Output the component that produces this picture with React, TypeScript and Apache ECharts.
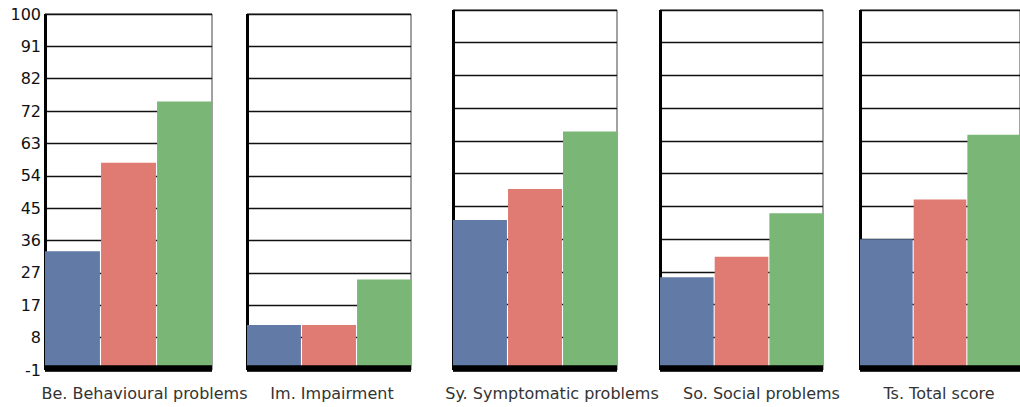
import React, { useEffect, useRef } from "react";
import * as echarts from "echarts";

const categories = [
  "Be. Behavioural problems",
  "Im. Impairment",
  "Sy. Symptomatic problems",
  "So. Social problems",
  "Ts. Total score",
];
const seriesNames = ["Group 1", "Group 2", "Group 3"];
const blueValues = [32.7, 11.8, 41.1, 25.0, 35.7];
const redValues = [57.8, 11.8, 49.8, 30.8, 46.8];
const greenValues = [75.2, 24.7, 65.9, 43.0, 65.0];
const tickLabels = ["-1", "8", "17", "27", "36", "45", "54", "63", "72", "82", "91", "100"];

const colors = ["#627AA6", "#DF7B72", "#7AB675"];
const yMin = -1;
const yMax = 100;
const yStep = (yMax - yMin) / (tickLabels.length - 1);

const panelLeft = [45, 247, 453, 660, 860];
const panelWidth = [167, 164, 164, 163, 164];
const panelTop = [14, 14, 10, 10, 10];
const panelBottom = 370;
const labelShift = [16, 3, 17, 20, -1];

const FONT = "DejaVu Sans";

export default function App() {
  const ref = useRef<HTMLDivElement>(null);
  useEffect(() => {
    if (!ref.current) return;
    const chart = echarts.init(ref.current, undefined, { renderer: "svg" });
    const values = [blueValues, redValues, greenValues];
    const grids = categories.map((_, i) => ({
      left: panelLeft[i],
      top: panelTop[i],
      width: panelWidth[i],
      height: panelBottom - panelTop[i],
      show: true,
      borderColor: "#444",
      borderWidth: 1,
      backgroundColor: "transparent",
    }));
    const xAxes = categories.map((c, i) => ({
      gridIndex: i,
      type: "category",
      data: [c],
      z: 5,
      offset: -2,
      axisLine: { onZero: false, lineStyle: { color: "#000", width: 6.5, cap: "butt" } },
      axisTick: { show: false },
      axisLabel: {
        fontFamily: FONT,
        fontSize: 16,
        color: "#333",
        margin: 17,
        padding: [0, labelShift[i] < 0 ? -2 * labelShift[i] : 0, 0, labelShift[i] > 0 ? 2 * labelShift[i] : 0],
      },
    }));
    const yAxes = categories.map((_, i) => ({
      gridIndex: i,
      type: "value",
      min: yMin,
      max: yMax,
      interval: yStep,
      axisLine: { show: true, lineStyle: { color: "#000", width: 3, cap: "butt" } },
      axisTick: { show: false },
      splitLine: { show: true, lineStyle: { color: "#111", width: 1.3 } },
      axisLabel:
        i === 0
          ? {
              show: true,
              fontFamily: FONT,
              fontSize: 16,
              color: "#111",
              margin: 4,
              formatter: (v: number) => tickLabels[Math.round((v - yMin) / yStep)] ?? "",
            }
          : { show: false },
    }));
    const series: any[] = [];
    categories.forEach((_, i) => {
      values.forEach((vals, k) => {
        series.push({
          type: "bar",
          name: seriesNames[k],
          xAxisIndex: i,
          yAxisIndex: i,
          data: [vals[i]],
          itemStyle: { color: colors[k] },
          barGap: "2%",
          barCategoryGap: 0,
        });
      });
    });
    chart.setOption({
      animation: false,
      backgroundColor: "#fff",
      grid: grids,
      xAxis: xAxes,
      yAxis: yAxes,
      series,
    });
    return () => chart.dispose();
  }, []);
  return (
    <div
      ref={ref}
      style={{ position: "fixed", left: 0, top: 0, width: 1020, height: 407 }}
    />
  );
}
